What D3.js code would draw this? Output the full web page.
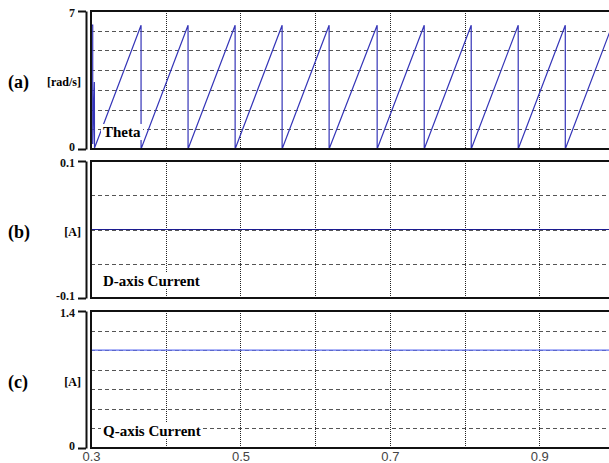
<!DOCTYPE html>
<html>
<head>
<meta charset="utf-8">
<script src="https://d3js.org/d3.v7.min.js"></script>
<style>
  body { margin: 0; background: #fff; }
  svg { display: block; overflow: hidden; }
</style>
</head>
<body>
<div id="chart"></div>
<script>
// time axis
const xDomain = [0.3, 1.0];
const xLabelTicks = [0.3, 0.5, 0.7, 0.9];
const xGridTicks = [0.4, 0.5, 0.6, 0.7, 0.8, 0.9, 1.0];

// (a) theta sawtooth, [time, rad]
const thetaPoints = [
    [0.3, 6.28], [0.3023, 6.28], [0.3023, 0.25], [0.3045, 3.4], [0.3047, 0.05],
    [0.3670, 6.28], [0.3670, 0],
    [0.4299, 6.28], [0.4299, 0],
    [0.4929, 6.28], [0.4929, 0],
    [0.5558, 6.28], [0.5558, 0],
    [0.6187, 6.28], [0.6187, 0],
    [0.6830, 6.28], [0.6830, 0],
    [0.7460, 6.28], [0.7460, 0],
    [0.8089, 6.28], [0.8089, 0],
    [0.8718, 6.28], [0.8718, 0],
    [0.9348, 6.28], [0.9348, 0],
    [0.9977, 6.28]
];
// (b) d-axis current
const dCurrent = [[0.3, 0], [1.0, 0]];
// (c) q-axis current
const qCurrent = [[0.3, 1.0], [1.0, 1.0]];

const panels = [
    { tag: "(a)", unit: "[rad/s]", name: "Theta", domain: [0, 7], ticks: [0, 7],
      grid: [1, 2, 3, 4, 5, 6], data: thetaPoints, top: 11, bottom: 149, color: "#3535b8" },
    { tag: "(b)", unit: "[A]", name: "D-axis Current", domain: [-0.1, 0.1], ticks: [-0.1, 0.1],
      grid: [-0.05, 0, 0.05], data: dCurrent, top: 161, bottom: 298, color: "#1c1c90" },
    { tag: "(c)", unit: "[A]", name: "Q-axis Current", domain: [0, 1.4], ticks: [0, 1.4],
      grid: [0.2, 0.4, 0.6, 0.8, 1.0, 1.2], data: qCurrent, top: 311, bottom: 448, color: "#5f6ff2" }
];

const width = 609, height = 463;
const plotLeft = 91, plotRight = 614;
const serif = "'Liberation Serif', 'Times New Roman', serif";

const svg = d3.select("#chart").append("svg")
    .attr("width", width)
    .attr("height", height);

const x = d3.scaleLinear().domain(xDomain).range([plotLeft, plotRight]);

panels.forEach((p, i) => {
    const y = d3.scaleLinear().domain(p.domain).range([p.bottom, p.top]);
    const g = svg.append("g");

    g.append("clipPath").attr("id", "clip" + i)
        .append("rect")
        .attr("x", plotLeft).attr("y", p.top)
        .attr("width", plotRight - plotLeft).attr("height", p.bottom - p.top);

    // horizontal dashed grid
    g.selectAll(".hgrid").data(p.grid).enter().append("line")
        .attr("x1", plotLeft).attr("x2", plotRight)
        .attr("y1", d => Math.round(y(d)) + 0.5).attr("y2", d => Math.round(y(d)) + 0.5)
        .attr("stroke", "#555").attr("stroke-width", 1)
        .attr("stroke-dasharray", "4,3");

    // vertical dotted grid
    g.selectAll(".vgrid").data(xGridTicks).enter().append("line")
        .attr("x1", d => Math.round(x(d)) + 0.5).attr("x2", d => Math.round(x(d)) + 0.5)
        .attr("y1", p.top).attr("y2", p.bottom)
        .attr("stroke", "#222").attr("stroke-width", 1)
        .attr("stroke-dasharray", "1,1");

    // signal
    const line = d3.line().x(d => x(d[0])).y(d => y(d[1]));
    g.append("path")
        .datum(p.data)
        .attr("clip-path", `url(#clip${i})`)
        .attr("d", line)
        .attr("fill", "none")
        .attr("stroke", p.color)
        .attr("stroke-width", 1.2);

    // signal name with white box
    const label = g.append("text")
        .attr("x", plotLeft + 12)
        .attr("y", p.bottom - 12)
        .style("font-family", serif)
        .style("font-weight", "bold")
        .style("font-size", "15px")
        .text(p.name);
    const bb = label.node().getBBox();
    g.insert("rect", "text")
        .attr("x", bb.x - 2).attr("y", bb.y)
        .attr("width", bb.width + 4).attr("height", bb.height)
        .attr("fill", "#fff");

    // frame
    g.append("rect")
        .attr("x", plotLeft).attr("y", p.top)
        .attr("width", plotRight - plotLeft).attr("height", p.bottom - p.top)
        .attr("fill", "none")
        .attr("stroke", "#111")
        .attr("stroke-width", 2);

    // left bracket axis, end ticks only
    const yAxis = d3.axisLeft(y)
        .tickValues(p.ticks)
        .tickFormat(d => String(d))
        .tickSize(8)
        .tickSizeOuter(0)
        .tickPadding(3);
    const ag = g.append("g")
        .attr("transform", "translate(86,0)")
        .call(yAxis);
    ag.select(".domain").attr("stroke", "#111").attr("stroke-width", 2);
    ag.selectAll(".tick line").attr("stroke", "#111").attr("stroke-width", 2);
    ag.selectAll(".tick text")
        .style("font-family", serif)
        .style("font-weight", "bold")
        .style("font-size", "12px")
        .attr("fill", "#111")
        .attr("dy", (d, k) => k === 0 ? "0.1em" : "0.45em");

    const midY = (p.top + p.bottom) / 2 + 2;
    g.append("text")
        .attr("x", 8).attr("y", midY)
        .attr("dy", "0.35em")
        .style("font-family", serif)
        .style("font-weight", "bold")
        .style("font-size", "18px")
        .text(p.tag);
    g.append("text")
        .attr("x", 81).attr("y", midY)
        .attr("dy", "0.35em")
        .attr("text-anchor", "end")
        .style("font-family", serif)
        .style("font-weight", "bold")
        .style("font-size", "12px")
        .text(p.unit);
});

// time labels
const xAxis = d3.axisBottom(x)
    .tickValues(xLabelTicks)
    .tickFormat(d3.format(".1f"))
    .tickSize(0)
    .tickPadding(4);
const xg = svg.append("g")
    .attr("transform", "translate(0,448)")
    .call(xAxis);
xg.select(".domain").remove();
xg.selectAll(".tick text")
    .style("font-family", "'Liberation Sans', Arial, sans-serif")
    .style("font-size", "13px")
    .attr("fill", "#444");
</script>
</body>
</html>
